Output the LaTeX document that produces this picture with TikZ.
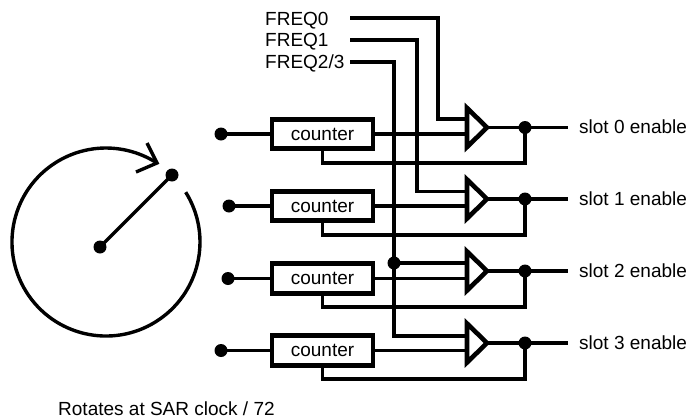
\documentclass[tikz,border=0pt]{standalone}
\usepackage{fontspec}
\setmainfont{Liberation Sans}
\tikzset{
  wire/.style={line width=3.4pt,line join=miter},
  dot/.style={circle,fill=black,inner sep=0pt,minimum size=13pt},
  counterbox/.style={draw,line width=4.6pt,fill=white,minimum width=101pt,minimum height=29.5pt,inner sep=0pt,font=\fontsize{19}{19}\selectfont},
  gate/.style={draw,line width=4.6pt,line join=miter,fill=white},
  lbl/.style={anchor=base west,inner sep=0pt,font=\fontsize{19}{19}\selectfont},
}
\begin{document}
\begin{tikzpicture}[x=1pt,y=-1pt]
\useasboundingbox (0,0) rectangle (689,418);
% dial
\coordinate (arcstart) at (185.7,192.2);
\coordinate (tip) at (157,163);
\coordinate (headA) at (147,143);
\coordinate (headB) at (136,172);
\draw[wire] (arcstart) arc[start angle=-32,end angle=303,radius=94];
\draw[wire,line join=miter] (headA) -- (tip) -- (headB);
\node[dot] (hub) at (100,247) {};
\node[dot] (hand) at (172,175) {};
\draw[wire] (hub.center) -- (hand.center);
% frequency labels
\node[lbl] (f0) at (265,25) {FREQ0};
\node[lbl] (f1) at (265,46) {FREQ1};
\node[lbl] (f2) at (265,68) {FREQ2/3};
\coordinate (f0s) at (350,18);
\coordinate (f1s) at (350,40);
\coordinate (f2s) at (350,62);
% gate input / output coordinates
\foreach \n/\gy/\cy/\dx/\fb/\upper in {0/127.5/134/221/163/119,1/199/206/229/235/191.5,2/271/278.5/228/307/263,3/343/350.5/221/379/336}{
  \coordinate (gu\n) at (467,\upper);
  \coordinate (gl\n) at (467,\cy);
  \coordinate (out\n) at (568,\gy);
  \coordinate (fb\n) at (525,\fb);
  \coordinate (gt\n) at (487,\gy);
  \coordinate (ga\n) at (467,\gy-19.5);
  \coordinate (gb\n) at (467,\gy+19.5);
  \node[counterbox] (c\n) at (322.5,\cy) {counter};
  \node[dot] (in\n) at (\dx,\cy) {};
  \node[dot] (o\n) at (525,\gy) {};
  \node[lbl] (s\n) at (579,\gy+6) {slot \n{} enable};
  \draw[wire] (in\n.center) -- (c\n.west);
  \draw[wire] (c\n.east) -- (gl\n);
  \draw[wire] (gt\n) -- (out\n);
  \draw[wire] (c\n.south) |- (fb\n) -- (o\n.center);
}
% frequency wires
\draw[wire] (f0s) -| (438,119) -- (gu0);
\draw[wire] (f1s) -| (417,191.5) -- (gu1);
\draw[wire] (f2s) -| (394,336) -- (gu3);
\node[dot] (j) at (394,263) {};
\draw[wire] (j.center) -- (gu2);
% gates on top
\foreach \n in {0,1,2,3}{
  \draw[gate] (ga\n) -- (gt\n) -- (gb\n) -- cycle;
}
\node[lbl] (cap) at (58,415) {Rotates at SAR clock / 72};
\end{tikzpicture}
\end{document}
